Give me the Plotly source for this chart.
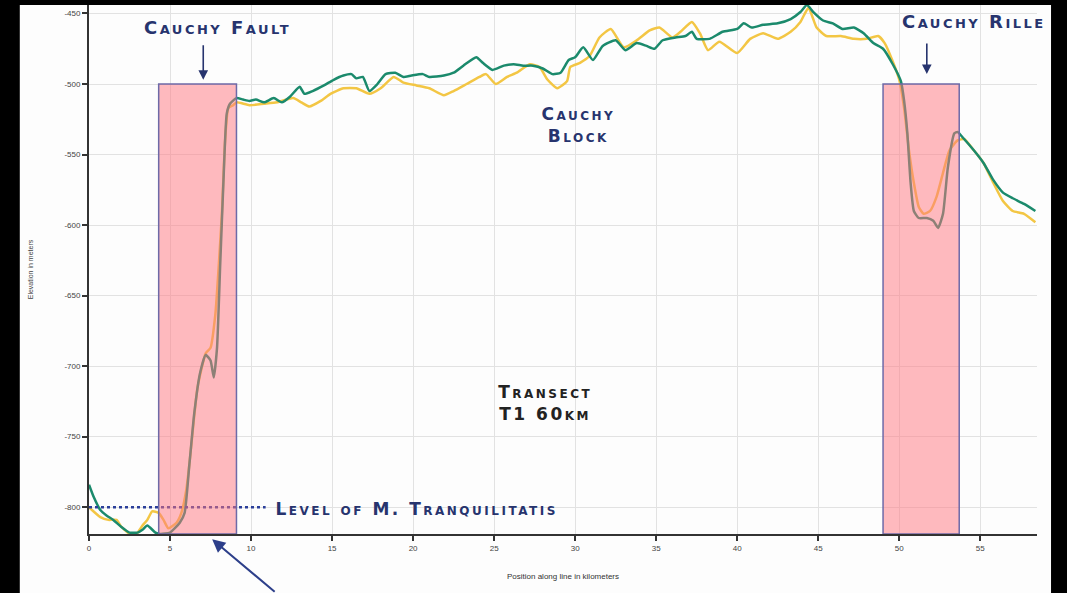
import plotly.graph_objects as go

# ---------------- data ----------------
green_km = [0.0, 0.3, 0.7, 1.1, 1.5, 2.0, 2.5, 3.0, 3.3, 3.6, 4.1, 4.4, 5.0, 5.6, 5.9, 6.2, 6.5, 6.85,
            7.2, 7.5, 7.7, 7.9, 8.1, 8.3, 8.5, 8.7, 9.1, 9.5, 9.9, 10.3, 10.8, 11.4, 11.9, 12.4, 13.0,
            13.3, 13.8, 14.5, 15.1, 15.7, 16.2, 16.5, 16.9, 17.3, 17.8, 18.3, 18.9, 19.4, 19.9, 20.6,
            21.0, 21.9, 22.5, 23.1, 23.9, 24.3, 24.9, 25.6, 26.2, 26.8, 27.4, 28.0, 28.6, 29.1, 29.6,
            30.0, 30.5, 31.1, 31.7, 32.5, 33.1, 33.8, 34.4, 34.9, 35.4, 36.2, 36.8, 37.2, 37.5, 38.3,
            39.1, 40.0, 40.4, 40.9, 41.6, 42.5, 43.3, 43.9, 44.3, 44.7, 45.3, 45.9, 46.5, 47.2, 47.8,
            48.4, 49.0, 49.6, 50.1, 50.3, 50.5, 50.7, 50.9, 51.2, 51.7, 52.1, 52.4, 52.7, 53.0, 53.4,
            53.6, 54.0, 54.6, 55.2, 55.8, 56.4, 57.0, 57.7, 58.4]
green_elev = [-784, -793, -802, -806, -809, -814, -818, -818, -816, -813, -818, -819, -818, -811, -804,
              -769, -733, -705, -692, -696, -708, -687, -627, -568, -521, -514, -510, -511, -512, -511,
              -513, -510, -513, -509, -502, -507, -505, -501, -497, -494, -493, -496, -495, -505, -500,
              -493, -492, -495, -494, -493, -495, -494, -492, -487, -481, -485, -490, -487, -486, -487,
              -487, -489, -493, -492, -483, -481, -474, -483, -473, -469, -476, -471, -473, -475, -469,
              -467, -466, -463, -468, -468, -463, -461, -457, -460, -458, -457, -454, -449, -444, -449,
              -455, -457, -461, -460, -464, -471, -475, -486, -498, -512, -535, -570, -590, -595, -595,
              -597, -602, -592, -559, -535, -534, -539, -547, -556, -568, -577, -581, -585, -590]

yellow_km = [0.0, 0.7, 1.2, 1.7, 2.0, 2.4, 2.7, 3.0, 3.3, 3.6, 3.9, 4.3, 4.6, 4.9, 5.4, 5.7, 6.0, 6.2,
             6.4, 6.7, 7.2, 7.5, 7.8, 8.0, 8.2, 8.4, 8.6, 8.9, 9.1, 9.9, 10.8, 11.6, 12.6, 13.1, 13.6,
             14.3, 14.9, 15.7, 16.5, 17.3, 18.0, 18.8, 19.4, 20.2, 21.0, 21.9, 22.5, 23.3, 24.1, 24.5,
             25.1, 25.8, 26.4, 27.2, 27.8, 28.3, 28.9, 29.5, 29.7, 30.3, 30.9, 31.5, 32.2, 33.0, 33.8,
             34.6, 35.2, 36.0, 36.5, 37.2, 37.7, 38.2, 38.9, 40.0, 40.8, 41.6, 42.5, 43.3, 43.9, 44.4,
             44.9, 45.5, 46.4, 47.2, 48.0, 48.7, 49.1, 49.6, 50.0, 50.3, 50.6, 50.9, 51.2, 51.5, 51.9,
             52.3, 52.7, 53.1, 53.6, 54.0, 54.6, 55.2, 55.8, 56.4, 57.0, 57.7, 58.4]
yellow_elev = [-800, -807, -809, -809, -814, -818, -821, -818, -813, -809, -803, -804, -809, -815, -811,
               -804, -788, -769, -746, -715, -691, -687, -663, -630, -592, -540, -517, -515, -513, -515,
               -514, -513, -510, -513, -516, -512, -507, -503, -503, -507, -503, -495, -499, -501, -503,
               -508, -505, -500, -495, -493, -500, -495, -492, -486, -488, -497, -503, -498, -488, -485,
               -480, -467, -461, -474, -469, -462, -460, -467, -463, -456, -464, -476, -470, -478, -468,
               -464, -468, -463, -456, -446, -460, -466, -466, -468, -468, -466, -471, -484, -497, -517,
               -547, -570, -587, -592, -590, -580, -563, -547, -540, -539, -547, -556, -570, -583, -590,
               -592, -598]

x_ticks = [0, 5, 10, 15, 20, 25, 30, 35, 40, 45, 50, 55]
y_ticks = [-450, -500, -550, -600, -650, -700, -750, -800]

fault_zone = [4.3, 9.1]
rille_zone = [49.0, 53.7]
zone_top = -500
mare_level = -800
mare_line_end = 10.9

NAVY = "#27346e"
GREEN = "#1b8a6c"
YELLOW = "#f3c644"

fig = go.Figure()
fig.add_trace(go.Scatter(x=yellow_km, y=yellow_elev, mode="lines",
                         line=dict(color=YELLOW, width=2.5, shape="spline", smoothing=0.5),
                         showlegend=False, hoverinfo="skip"))
fig.add_trace(go.Scatter(x=green_km, y=green_elev, mode="lines",
                         line=dict(color=GREEN, width=2.5, shape="spline", smoothing=0.5),
                         showlegend=False, hoverinfo="skip"))
fig.add_trace(go.Scatter(x=[0, mare_line_end], y=[mare_level, mare_level], mode="lines",
                         line=dict(color="#2b3f9a", width=2.5, dash="dot"),
                         showlegend=False, hoverinfo="skip"))

shapes = [
    # white page inside black frame
    dict(type="rect", xref="paper", yref="paper", x0=-0.073, x1=1.0148, y0=-0.2, y1=1.0,
         fillcolor="#fdfdfd", line=dict(width=0), layer="below"),
]
for z in (fault_zone, rille_zone):
    shapes.append(dict(type="rect", xref="x", yref="y", x0=z[0], x1=z[1], y0=-819, y1=zone_top,
                       fillcolor="rgba(255,118,128,0.5)", line=dict(color="#6d6aa8", width=1.5),
                       layer="above"))

sc = dict(family="DejaVu Sans", size=18, color=NAVY, weight="bold", variant="small-caps")
annotations = [
    dict(x=7.9, y=-460, xref="x", yref="y", text="Cauchy Fault", showarrow=False, font=sc),
    dict(x=54.6, y=-456, xref="x", yref="y", text="Cauchy Rille", showarrow=False, font=sc),
    dict(x=30.2, y=-529, xref="x", yref="y", text="Cauchy<br>Block", showarrow=False,
         font=dict(sc, size=17)),
    dict(x=28.2, y=-726, xref="x", yref="y", text="Transect<br>T1 60km", showarrow=False,
         font=dict(sc, size=17, color="#222222")),
    dict(x=20.2, y=-801, xref="x", yref="y", text="Level of M. Tranquilitatis", showarrow=False,
         xanchor="center", font=dict(sc, size=17)),
    # arrows
    dict(x=7.05, y=-497, xref="x", yref="y", ax=0, ay=-36, text="", showarrow=True,
         arrowhead=2, arrowsize=1.2, arrowwidth=1.6, arrowcolor=NAVY),
    dict(x=51.7, y=-493, xref="x", yref="y", ax=0, ay=-32, text="", showarrow=True,
         arrowhead=2, arrowsize=1.2, arrowwidth=1.6, arrowcolor=NAVY),
    dict(x=7.6, y=-0.01, xref="x", yref="paper", ax=64, ay=62, text="", showarrow=True,
         arrowhead=2, arrowsize=1.3, arrowwidth=2, arrowcolor="#2d3f8a"),
]

fig.update_layout(
    width=1067, height=593,
    margin=dict(l=89, r=30, t=5, b=59),
    paper_bgcolor="#000000",
    plot_bgcolor="#fdfdfd",
    shapes=shapes,
    annotations=annotations,
    showlegend=False,
)
fig.update_xaxes(range=[0, 58.5], tickvals=x_ticks, ticktext=[str(v) for v in x_ticks],
                 showgrid=True, gridcolor="#e2e2e2", gridwidth=1,
                 showline=True, linecolor="#333333", linewidth=2,
                 ticks="outside", ticklen=5, tickwidth=2, tickcolor="#333333",
                 tickfont=dict(family="Liberation Sans", size=8, color="#444444"), zeroline=False,
                 title=dict(text="Position along line in kilometers", standoff=22,
                            font=dict(family="Liberation Sans", size=8, color="#333333")),
                 automargin=False)
fig.update_yaxes(range=[-819, -444], tickvals=y_ticks, ticktext=[str(v) for v in y_ticks],
                 showgrid=True, gridcolor="#e2e2e2", gridwidth=1,
                 showline=True, linecolor="#333333", linewidth=2,
                 ticks="outside", ticklen=5, tickwidth=2, tickcolor="#333333",
                 tickfont=dict(family="Liberation Sans", size=8, color="#444444"), zeroline=False,
                 title=dict(text="Elevation in meters", standoff=30,
                            font=dict(family="Liberation Sans", size=7, color="#444444")),
                 automargin=False)

post_js = """
document.body.style.margin='0';
document.body.style.overflow='hidden';
document.body.style.background='#000';
function widenLabels(){
  document.querySelectorAll('.annotation-text').forEach(function(t){
    t.style.letterSpacing='2.5px';
  });
}
widenLabels();
setTimeout(widenLabels, 50);
"""

fig.write_html("out.html", post_script=post_js, config={"displayModeBar": False})
